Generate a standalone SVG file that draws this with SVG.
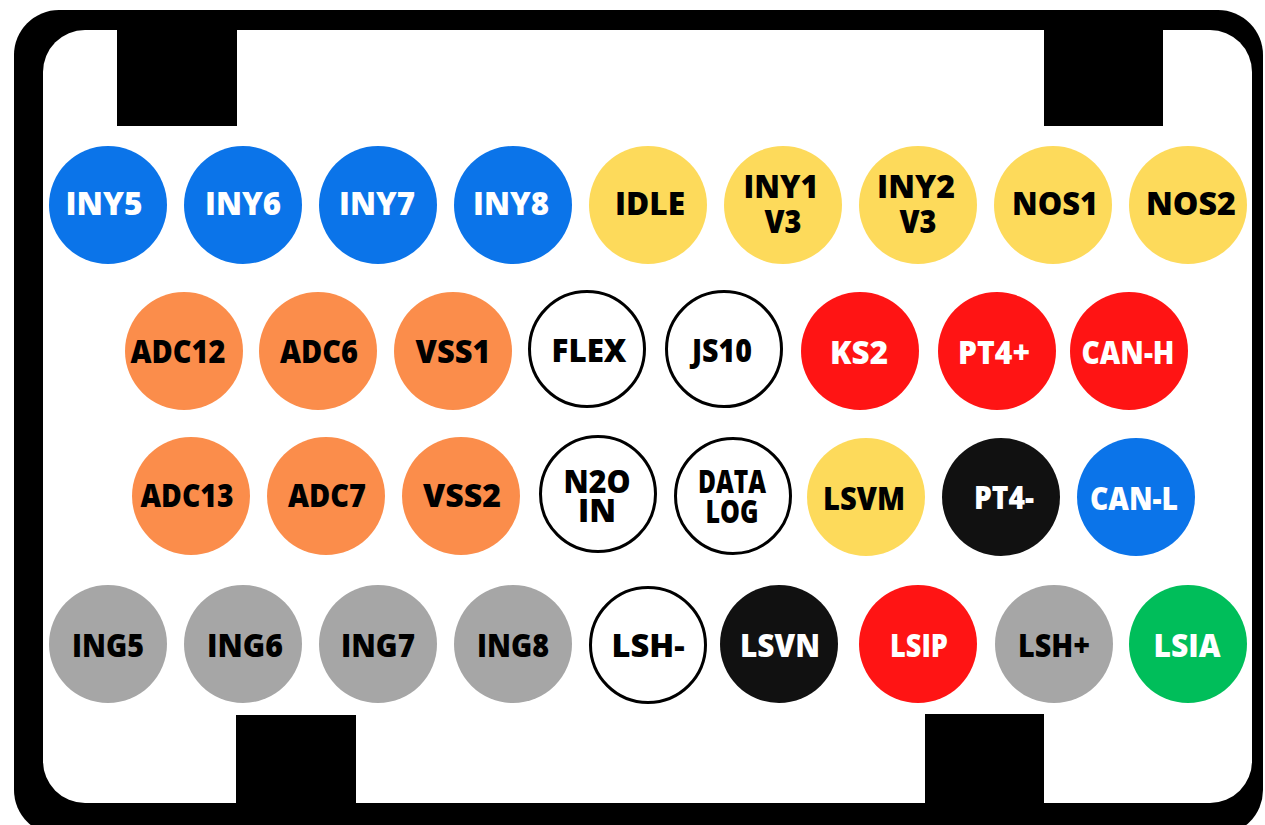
<svg xmlns="http://www.w3.org/2000/svg" width="1265" height="825" viewBox="0 0 1265 825">
<style>
text{font-family:"Open Sans","Noto Sans","Liberation Sans",sans-serif;font-weight:800;font-size:31px;text-anchor:middle}
.w{fill:#ffffff}.k{fill:#000000}
.blue{fill:#0B74E9}.yel{fill:#FDDA5B}.org{fill:#FB8D4B}.red{fill:#FF1414}.gry{fill:#A6A6A6}.grn{fill:#00BE5A}.blk{fill:#111111}
.out{fill:#ffffff;stroke:#000000;stroke-width:3}
</style>
<g id="frame">
<rect x="14" y="10" width="1249" height="825" rx="45" fill="#000000"/>
<rect x="43" y="30" width="1209" height="773" rx="42" fill="#ffffff"/>
<rect x="117" y="28" width="120" height="98" fill="#000000"/>
<rect x="1044" y="28" width="119" height="98" fill="#000000"/>
<rect x="236" y="715" width="120" height="90" fill="#000000"/>
<rect x="925" y="714" width="119" height="91" fill="#000000"/>
</g>
<g id="connectors"/>
<g id="INY5"><circle class="blue" cx="108" cy="205" r="59"/><text class="w" x="104" y="215" textLength="77" lengthAdjust="spacingAndGlyphs">INY5</text></g>
<g id="INY6"><circle class="blue" cx="243" cy="205" r="59"/><text class="w" x="243" y="215" textLength="76" lengthAdjust="spacingAndGlyphs">INY6</text></g>
<g id="INY7"><circle class="blue" cx="378" cy="205" r="59"/><text class="w" x="377" y="215" textLength="76" lengthAdjust="spacingAndGlyphs">INY7</text></g>
<g id="INY8"><circle class="blue" cx="513" cy="205" r="59"/><text class="w" x="511" y="215" textLength="76" lengthAdjust="spacingAndGlyphs">INY8</text></g>
<g id="IDLE"><circle class="yel" cx="648" cy="205" r="59"/><text class="k" x="650" y="215" textLength="70" lengthAdjust="spacingAndGlyphs">IDLE</text></g>
<g id="INY1V3"><circle class="yel" cx="783" cy="205" r="59"/><text class="k"><tspan x="781" y="198" textLength="75" lengthAdjust="spacingAndGlyphs">INY1</tspan><tspan x="783" y="233" textLength="37" lengthAdjust="spacingAndGlyphs">V3</tspan></text></g>
<g id="INY2V3"><circle class="yel" cx="918" cy="205" r="59"/><text class="k"><tspan x="916" y="198" textLength="78" lengthAdjust="spacingAndGlyphs">INY2</tspan><tspan x="918" y="233" textLength="37" lengthAdjust="spacingAndGlyphs">V3</tspan></text></g>
<g id="NOS1"><circle class="yel" cx="1053" cy="205" r="59"/><text class="k" x="1055" y="215" textLength="86" lengthAdjust="spacingAndGlyphs">NOS1</text></g>
<g id="NOS2"><circle class="yel" cx="1188" cy="205" r="59"/><text class="k" x="1191" y="215" textLength="90" lengthAdjust="spacingAndGlyphs">NOS2</text></g>
<g id="ADC12"><circle class="org" cx="184" cy="351" r="59"/><text class="k" x="178" y="363" textLength="95" lengthAdjust="spacingAndGlyphs">ADC12</text></g>
<g id="ADC6"><circle class="org" cx="318" cy="351" r="59"/><text class="k" x="319" y="363" textLength="78" lengthAdjust="spacingAndGlyphs">ADC6</text></g>
<g id="VSS1"><circle class="org" cx="453" cy="351" r="59"/><text class="k" x="453" y="363" textLength="75" lengthAdjust="spacingAndGlyphs">VSS1</text></g>
<g id="FLEX"><circle class="out" cx="587" cy="349" r="57.5"/><text class="k" x="589" y="362" textLength="75" lengthAdjust="spacingAndGlyphs">FLEX</text></g>
<g id="JS10"><circle class="out" cx="724" cy="349" r="57.5"/><text class="k" x="722" y="362" textLength="60" lengthAdjust="spacingAndGlyphs">JS10</text></g>
<g id="KS2"><circle class="red" cx="860" cy="351" r="59"/><text class="w" x="859" y="364" textLength="58" lengthAdjust="spacingAndGlyphs">KS2</text></g>
<g id="PT4plus"><circle class="red" cx="997" cy="351" r="59"/><text class="w" x="994" y="364" textLength="72" lengthAdjust="spacingAndGlyphs">PT4+</text></g>
<g id="CAN-H"><circle class="red" cx="1129" cy="351" r="59"/><text class="w" x="1128" y="364" textLength="93" lengthAdjust="spacingAndGlyphs">CAN-H</text></g>
<g id="ADC13"><circle class="org" cx="191" cy="496" r="59"/><text class="k" x="187" y="507" textLength="93" lengthAdjust="spacingAndGlyphs">ADC13</text></g>
<g id="ADC7"><circle class="org" cx="326" cy="496" r="59"/><text class="k" x="327" y="507" textLength="78" lengthAdjust="spacingAndGlyphs">ADC7</text></g>
<g id="VSS2"><circle class="org" cx="461" cy="496" r="59"/><text class="k" x="462" y="507" textLength="78" lengthAdjust="spacingAndGlyphs">VSS2</text></g>
<g id="N2OIN"><circle class="out" cx="598" cy="494" r="57.5"/><text class="k"><tspan x="597" y="493" textLength="67" lengthAdjust="spacingAndGlyphs">N2O</tspan><tspan x="597" y="522" textLength="38" lengthAdjust="spacingAndGlyphs">IN</tspan></text></g>
<g id="DATALOG"><circle class="out" cx="733" cy="496" r="57.5"/><text class="k"><tspan x="732" y="493" textLength="68" lengthAdjust="spacingAndGlyphs">DATA</tspan><tspan x="732" y="523" textLength="53" lengthAdjust="spacingAndGlyphs">LOG</tspan></text></g>
<g id="LSVM"><circle class="yel" cx="866" cy="497" r="59"/><text class="k" x="864" y="510" textLength="82" lengthAdjust="spacingAndGlyphs">LSVM</text></g>
<g id="PT4minus"><circle class="blk" cx="1001" cy="497" r="59"/><text class="w" x="1004" y="509" textLength="60" lengthAdjust="spacingAndGlyphs">PT4-</text></g>
<g id="CAN-L"><circle class="blue" cx="1136" cy="497" r="59"/><text class="w" x="1134" y="510" textLength="88" lengthAdjust="spacingAndGlyphs">CAN-L</text></g>
<g id="ING5"><circle class="gry" cx="108" cy="644" r="59"/><text class="k" x="108" y="657" textLength="72" lengthAdjust="spacingAndGlyphs">ING5</text></g>
<g id="ING6"><circle class="gry" cx="243" cy="644" r="59"/><text class="k" x="245" y="657" textLength="76" lengthAdjust="spacingAndGlyphs">ING6</text></g>
<g id="ING7"><circle class="gry" cx="378" cy="644" r="59"/><text class="k" x="378" y="657" textLength="74" lengthAdjust="spacingAndGlyphs">ING7</text></g>
<g id="ING8"><circle class="gry" cx="513" cy="644" r="59"/><text class="k" x="513" y="657" textLength="72" lengthAdjust="spacingAndGlyphs">ING8</text></g>
<g id="LSHminus"><circle class="out" cx="648" cy="645" r="57.5"/><text class="k" x="648" y="657" textLength="73" lengthAdjust="spacingAndGlyphs">LSH-</text></g>
<g id="LSVN"><circle class="blk" cx="779" cy="644" r="59"/><text class="w" x="780" y="657" textLength="80" lengthAdjust="spacingAndGlyphs">LSVN</text></g>
<g id="LSIP"><circle class="red" cx="918" cy="644" r="59"/><text class="w" x="919" y="657" textLength="58" lengthAdjust="spacingAndGlyphs">LSIP</text></g>
<g id="LSHplus"><circle class="gry" cx="1054" cy="644" r="59"/><text class="k" x="1054" y="657" textLength="72" lengthAdjust="spacingAndGlyphs">LSH+</text></g>
<g id="LSIA"><circle class="grn" cx="1188" cy="644" r="59"/><text class="w" x="1187" y="657" textLength="67" lengthAdjust="spacingAndGlyphs">LSIA</text></g>
</svg>
